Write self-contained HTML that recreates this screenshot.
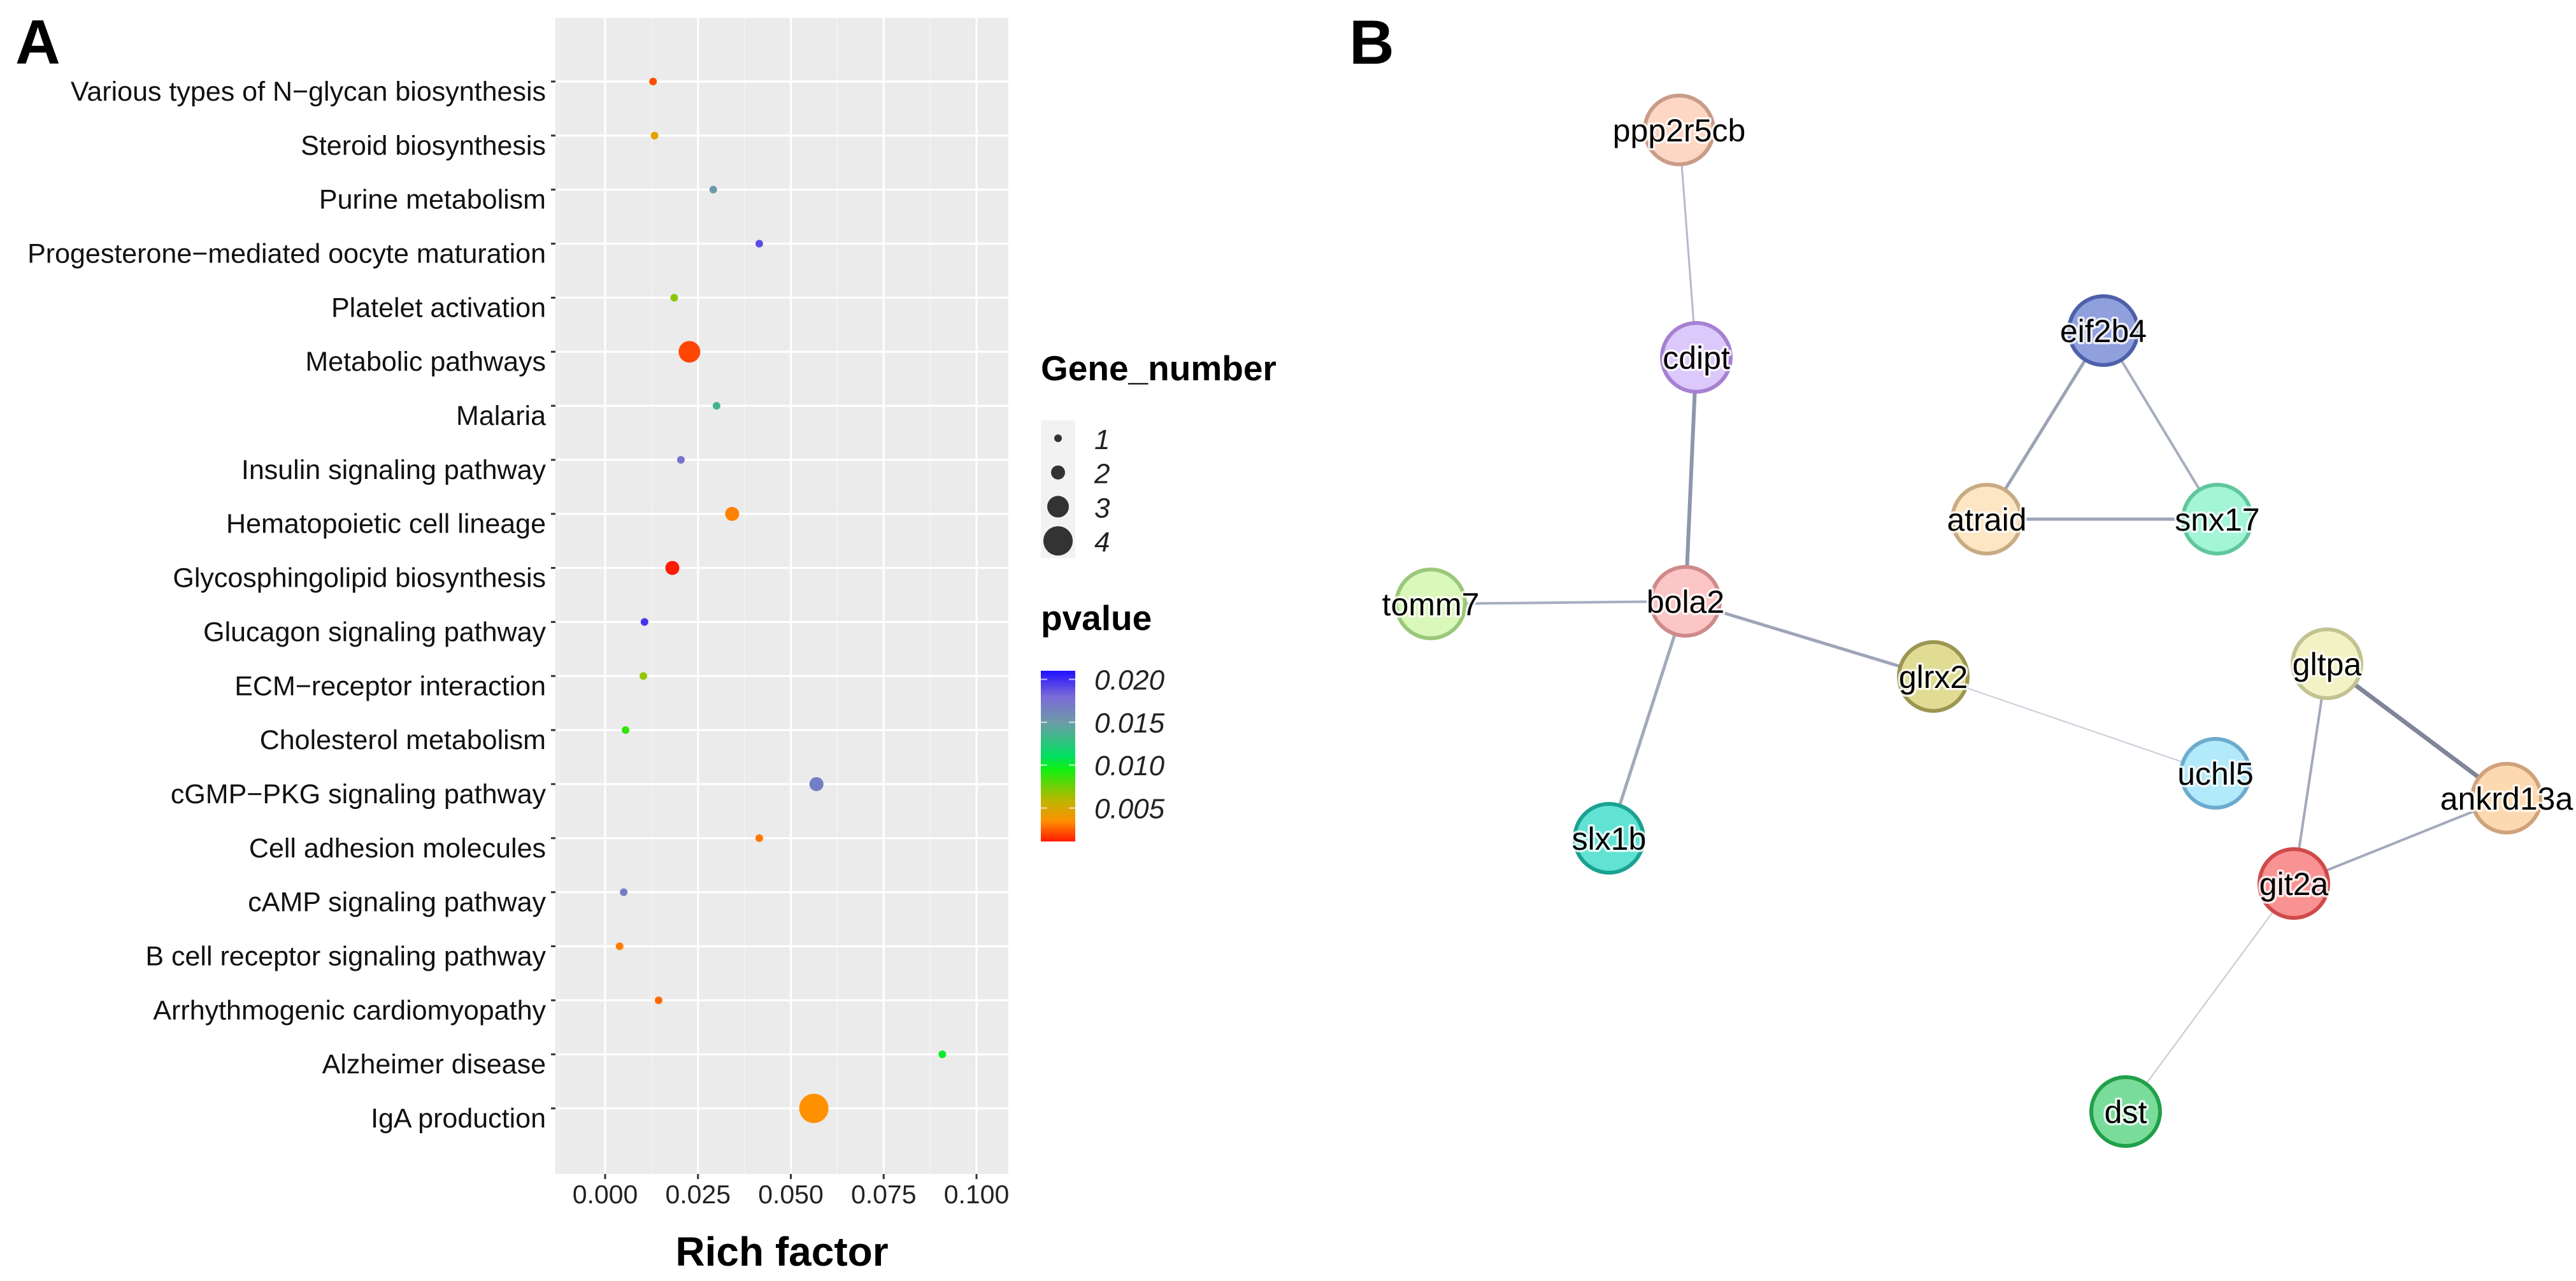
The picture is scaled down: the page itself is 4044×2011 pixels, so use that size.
<!DOCTYPE html>
<html><head><meta charset="utf-8"><style>
html,body{margin:0;padding:0;background:#fff}
svg{display:block}
text{font-family:"Liberation Sans",Arial,sans-serif}
</style></head><body>
<svg id="fig" width="4044" height="2011" viewBox="0 0 4044 2011" xmlns="http://www.w3.org/2000/svg">
<defs>
<linearGradient id="pgrad" x1="0" y1="1" x2="0" y2="0"></linearGradient>
</defs>
<rect width="4044" height="2011" fill="#fff"/>
<text x="24" y="100" font-size="98" font-weight="bold">A</text>
<text x="2118" y="100" font-size="98" font-weight="bold">B</text>
<g id="chartA"></g>
<g id="net"></g>
</svg>
<script>
// ---- Chart A data ----
const categories = ["Various types of N\u2212glycan biosynthesis","Steroid biosynthesis","Purine metabolism","Progesterone\u2212mediated oocyte maturation","Platelet activation","Metabolic pathways","Malaria","Insulin signaling pathway","Hematopoietic cell lineage","Glycosphingolipid biosynthesis","Glucagon signaling pathway","ECM\u2212receptor interaction","Cholesterol metabolism","cGMP\u2212PKG signaling pathway","Cell adhesion molecules","cAMP signaling pathway","B cell receptor signaling pathway","Arrhythmogenic cardiomyopathy","Alzheimer disease","IgA production"];
const richFactor = [0.0129,0.0133,0.0291,0.0415,0.0186,0.0227,0.0300,0.0204,0.0342,0.0181,0.0106,0.0103,0.0055,0.0569,0.0415,0.0050,0.0039,0.0144,0.0908,0.0562];
const geneNumber = [1,1,1,1,1,3,1,1,2,2,1,1,1,2,1,1,1,1,1,4];
const pvalue = [0.0022,0.0045,0.0150,0.0190,0.0070,0.0020,0.0135,0.0175,0.0032,0.0008,0.0198,0.0068,0.0088,0.0168,0.0030,0.0168,0.0031,0.0027,0.0100,0.0035];
const xTicks = [0, 0.025, 0.05, 0.075, 0.1];
const xTickLabels = ["0.000","0.025","0.050","0.075","0.100"];
const sizeLegend = [1,2,3,4];
const pTicks = [0.005,0.010,0.015,0.020];
const pTickLabels = ["0.005","0.010","0.015","0.020"];
const pRange = [0.0011, 0.021];
const cStopP = [0.0011,0.0035,0.0060,0.0095,0.0110,0.0150,0.0180,0.0210];
const cStopC = ["#ff1a00","#ff9000","#b8b800","#10f010","#00e060","#6e9aa8","#7a6ad8","#2010ff"];

// ---- Network data ----
const nodeNames = ["ppp2r5cb","cdipt","eif2b4","atraid","snx17","tomm7","bola2","glrx2","uchl5","gltpa","ankrd13a","git2a","slx1b","dst"];
const nodeX = [2636,2663,3302,3119,3481,2246,2646,3035,3478,3653,3935,3601,2526,3337];
const nodeY = [204,561,519,815,815,948,944,1062,1214,1042,1253,1387,1316,1745];
const nodeFill = ["#fdd6c4","#dcc8fa","#8fa0dd","#fde6c4","#a2f5d6","#d9f8ba","#fcc6c6","#e0dc94","#b2e9fb","#f2f2c4","#fdd9b2","#f99292","#62e2d2","#7adc9a"];
const nodeStroke = ["#c99c88","#a681d2","#4e60aa","#c9ab82","#60c69c","#9ac87a","#cf8a8a","#9c9652","#6cabcd","#c2c292","#d0a27a","#d04a4a","#1aa292","#20a04a"];
const edgeA = ["ppp2r5cb","cdipt","tomm7","bola2","bola2","glrx2","eif2b4","eif2b4","atraid","gltpa","gltpa","ankrd13a","git2a"];
const edgeB = ["cdipt","bola2","bola2","glrx2","slx1b","uchl5","atraid","snx17","snx17","ankrd13a","git2a","git2a","dst"];
const edgeW = [3,6,4,5,5,2,5,4,5,7,4,4,2];
const edgeC = ["#b4bac8","#8e96aa","#a6adbf","#9ea5b8","#a2a9bc","#c8ccd6","#9ca3b6","#a6adbf","#9ca3b6","#7e8698","#a2a9bc","#a2a9bc","#c4c8d2"];

const NS = "http://www.w3.org/2000/svg";
function mk(tag, attrs, parent){const e=document.createElementNS(NS,tag);for(const k in attrs)e.setAttribute(k,attrs[k]);parent.appendChild(e);return e;}

const PL=872, PR=1583, PT=28, PB=1843;
const X0=950, X1=1533;
function xScale(v){return X0 + v/0.1*(X1-X0);}
const ROW0=128, ROWN=1740;
function yScale(i){return ROW0 + i*(ROWN-ROW0)/(categories.length-1);}
function rScale(n){return [0,6,11,17,23][n];}
function hex2rgb(h){return [parseInt(h.substr(1,2),16),parseInt(h.substr(3,2),16),parseInt(h.substr(5,2),16)];}
function colorFor(p){
  if(p<=cStopP[0])return cStopC[0];
  for(let i=1;i<cStopP.length;i++){
    if(p<=cStopP[i]){const t=(p-cStopP[i-1])/(cStopP[i]-cStopP[i-1]);const a=hex2rgb(cStopC[i-1]),b=hex2rgb(cStopC[i]);
      return "rgb("+a.map((v,k)=>Math.round(v+(b[k]-v)*t)).join(",")+")";}
  }
  return cStopC[cStopC.length-1];
}
const A=document.getElementById("chartA");
const bg=mk("rect",{x:PL,y:PT,width:PR-PL,height:PB-PT,fill:"#ebebeb"},A);


for(let i=0;i<xTicks.length;i++){
  const m=xTicks[i]+0.0125; const xm=xScale(m);
  if(xm<PR){const l=mk("line",{x1:xm,x2:xm,y1:PT,y2:PB,stroke:"#f4f4f4","stroke-width":1.6},A);
  
  }
}
{const xm=xScale(-0.0125);const l=mk("line",{x1:xm,x2:xm,y1:PT,y2:PB,stroke:"#f4f4f4","stroke-width":1.6},A);

}
xTicks.forEach((v,i)=>{
  const x=xScale(v);
  const g=mk("line",{x1:x,x2:x,y1:PT,y2:PB,stroke:"#fff","stroke-width":3.2},A);
  
  
  const t=mk("line",{x1:x,x2:x,y1:PB,y2:PB+8,stroke:"#333","stroke-width":3},A);
  
  
  const lab=mk("text",{x:x,y:1889,"font-size":41,"text-anchor":"middle",fill:"#222"},A);
  lab.textContent=xTickLabels[i];
  
  
});
categories.forEach((c,i)=>{
  const y=yScale(i);
  const g=mk("line",{x1:PL,x2:PR,y1:y,y2:y,stroke:"#fff","stroke-width":3.2},A);
  
  
  const t=mk("line",{x1:PL-7,x2:PL,y1:y,y2:y,stroke:"#333","stroke-width":3},A);
  
  
  const lab=mk("text",{x:857,y:y+30,"font-size":43,"text-anchor":"end",fill:"#111"},A);
  lab.textContent=c;
  
  
});
categories.forEach((c,i)=>{
  const d=mk("circle",{cx:xScale(richFactor[i]),cy:yScale(i),r:rScale(geneNumber[i]),fill:colorFor(pvalue[i])},A);
  
  
});
const xt=mk("text",{x:(PL+PR)/2,y:1987,"font-size":64,"font-weight":"bold","text-anchor":"middle",fill:"#000"},A);
xt.textContent="Rich factor";



const gt=mk("text",{x:1634,y:597,"font-size":55,"font-weight":"bold",fill:"#000"},A);
gt.textContent="Gene_number";


const kb=mk("rect",{x:1634,y:660,width:54,height:216,fill:"#f2f2f2"},A);


sizeLegend.forEach((n,i)=>{
  const cy=688+i*53.7;
  const c=mk("circle",{cx:1661,cy:cy,r:rScale(n),fill:"#333"},A);
  
  
  const t=mk("text",{x:1718,y:cy+17,"font-size":44,"font-style":"italic",fill:"#222"},A);
  t.textContent=String(n);
  
  
});
const pt=mk("text",{x:1634,y:989,"font-size":55,"font-weight":"bold",fill:"#000"},A);
pt.textContent="pvalue";


const CB_T=1053, CB_B=1321;
function pY(p){return CB_B-(p-pRange[0])/(pRange[1]-pRange[0])*(CB_B-CB_T);}
const grad=document.getElementById("pgrad");
cStopP.forEach((p,i)=>{mk("stop",{offset:((p-pRange[0])/(pRange[1]-pRange[0])).toFixed(4),"stop-color":cStopC[i]},grad);});
const cb=mk("rect",{x:1634,y:CB_T,width:54,height:CB_B-CB_T,fill:"url(#pgrad)"},A);


pTicks.forEach((p,i)=>{
  const y=pY(p);
  const l1=mk("line",{x1:1634,x2:1644,y1:y,y2:y,stroke:"#fff","stroke-opacity":0.7,"stroke-width":2},A);
  
  
  const l2=mk("line",{x1:1678,x2:1688,y1:y,y2:y,stroke:"#fff","stroke-opacity":0.7,"stroke-width":2},A);
  
  
  const t=mk("text",{x:1718,y:y+16,"font-size":44,"font-style":"italic",fill:"#222"},A);
  t.textContent=pTickLabels[i];
  
  
});

const N=document.getElementById("net");
function idx(n){return nodeNames.indexOf(n);}
edgeA.forEach((a,i)=>{
  const p=idx(a),q=idx(edgeB[i]);
  const e=mk("line",{x1:nodeX[p],y1:nodeY[p],x2:nodeX[q],y2:nodeY[q],stroke:edgeC[i],"stroke-width":edgeW[i]},N);
  
  
});
nodeNames.forEach((n,i)=>{
  const c=mk("circle",{cx:nodeX[i],cy:nodeY[i],r:54,fill:nodeFill[i],stroke:nodeStroke[i],"stroke-width":6},N);
  
  
  const h=mk("text",{x:nodeX[i],y:nodeY[i]+18,"font-size":50,"text-anchor":"middle",fill:"none",stroke:"#fff","stroke-opacity":0.8,"stroke-width":7,"stroke-linejoin":"round"},N);
  h.textContent=n;
  
  
  const t=mk("text",{x:nodeX[i],y:nodeY[i]+18,"font-size":50,"text-anchor":"middle",fill:"#000"},N);
  t.textContent=n;
  
  
});
</script>
</body></html>
